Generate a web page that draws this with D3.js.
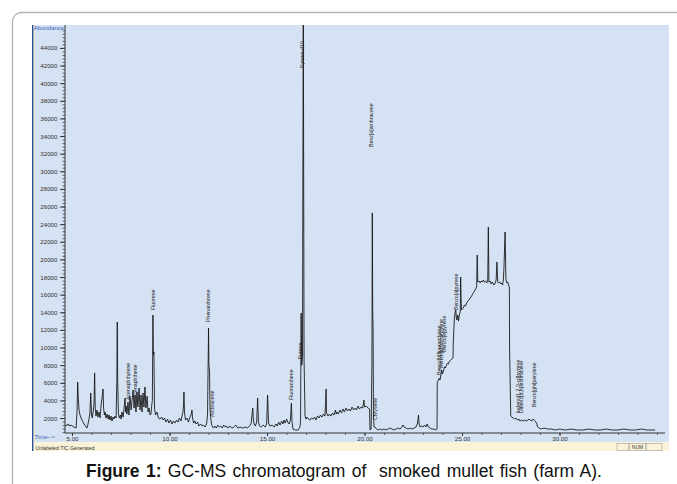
<!DOCTYPE html>
<html>
<head>
<meta charset="utf-8">
<script src="https://cdn.jsdelivr.net/npm/d3@7"></script>
<style>
  body { margin: 0; background: #fff; }
  svg { display: block; }
</style>
</head>
<body>
<svg id="chart"></svg>
<script>
// TIC trace: [retention time (min), abundance]
const ticEarly = [
  [4.64,1090],[4.74,1200],[4.80,1320],[4.85,1090],[4.95,1200],[5.10,980],[5.21,860],[5.26,2910],
  [5.29,6080],[5.32,4270],[5.36,2910],[5.41,2340],[5.51,1770],[5.62,1320],[5.72,980],[5.77,860],
  [5.82,1320],[5.87,1880],[5.92,2570],[5.96,4840],[6.00,2340],[6.04,2000],[6.08,2680],[6.13,3590],
  [6.16,7110],[6.19,3130],[6.23,2220],[6.28,2910],[6.33,2110],[6.38,2680],[6.44,2000],[6.49,3470],
  [6.54,4270],[6.59,5290],[6.62,3130],[6.66,2340],[6.70,2680],[6.74,2000],[6.80,2450],[6.85,1880],
  [6.90,2340],[6.95,1770],[7.00,2220],[7.05,1660],[7.10,2110],[7.15,1880],[7.20,2220],[7.26,2000],
  [7.30,6310],[7.32,12900],[7.34,6310],[7.38,2450],[7.43,2000],[7.48,2340],[7.52,1880],[7.56,2680],
  [7.62,2110],[7.67,3130],[7.72,4270],[7.75,2680],[7.77,3360],[7.82,2450],[7.87,3810],[7.92,2340],
  [7.97,4490],[8.03,2910],[8.08,4040],[8.13,5180],[8.18,3130],[8.23,4610],[8.28,2680],[8.33,4950],
  [8.38,3250],[8.44,5400],[8.49,2910],[8.54,4610],[8.59,2680],[8.64,4840],[8.69,3250],[8.74,5520],
  [8.79,3130],[8.85,4490],[8.90,2680],[8.95,3130],[9.00,2340],[9.05,2450],[9.09,3470],[9.12,4000],
  [9.15,13690],[9.17,9200],[9.20,9500],[9.23,3130],[9.28,2340],[9.36,2680],[9.43,2000],[9.51,1880]
];

const ticMiddle = [
  [9.59,2110],[9.67,1770],[9.74,2000],[9.82,1540],[9.90,1880],[9.97,1430],[10.05,1770],[10.13,1320],
  [10.20,1660],[10.28,1430],[10.36,1770],[10.44,1540],[10.51,2000],[10.59,1660],[10.64,2220],[10.69,2680],
  [10.72,3470],[10.74,4950],[10.77,2570],[10.82,1770],[10.90,2000],[10.97,1540],[11.05,2110],[11.12,2450],
  [11.15,2910],[11.18,2000],[11.24,1430],[11.30,1660],[11.36,1320],[11.44,1540],[11.51,1090],[11.59,1320],
  [11.67,1090],[11.74,1200],[11.82,980],[11.90,1320],[11.95,2340],[11.98,8200],[12.00,12210],[12.02,8000],
  [12.05,7500],[12.08,2910],[12.13,1660],[12.18,1090],[12.25,860],[12.33,1090],[12.40,860],[12.47,1200],
  [12.55,980],[12.62,1090],[12.70,860],[12.78,1200],[12.85,980],[12.93,1090],[13.00,860],[13.10,1090],
  [13.20,860],[13.30,980],[13.40,1200],[13.50,860],[13.62,980],[13.75,860],[13.87,980],[14.00,860],
  [14.10,1090],[14.18,1320],[14.23,2340],[14.27,3130],[14.30,1770],[14.34,1320],[14.40,1090],[14.47,1540],
  [14.52,4270],[14.56,1540],[14.62,1090],[14.70,980],[14.80,1200],[14.90,980],[14.98,1320],[15.03,4610],
  [15.08,1430],[15.15,1090],[15.26,1200],[15.36,980],[15.46,1320],[15.52,1090],[15.60,1540],[15.67,1200],
  [15.75,1660],[15.82,1320],[15.87,1770],[15.93,1430],[16.01,1880],[16.06,1540],[16.13,1320],[16.20,1770],
  [16.25,3700],[16.28,1660],[16.33,750],[16.45,640],[16.60,640],[16.69,980],[16.72,1770],[16.75,13910],
  [16.78,8000],[16.82,9000],[16.86,50000],[16.90,8580],[16.95,2220]
];

const ticLate = [
  [17.00,1880],[17.05,2110],[17.13,1880],[17.21,1770],[17.28,2000],[17.36,1880],[17.44,2110],[17.51,1770],
  [17.59,2220],[17.67,2000],[17.74,2340],[17.82,2110],[17.90,2450],[17.97,2220],[18.00,3500],[18.03,5290],
  [18.05,2570],[18.13,2220],[18.20,2450],[18.28,2220],[18.36,2570],[18.44,2340],[18.51,2910],[18.55,2450],
  [18.59,2680],[18.66,2450],[18.74,2910],[18.82,2570],[18.90,3020],[18.97,2680],[19.05,3130],[19.13,2800],
  [19.21,3020],[19.28,2800],[19.36,3250],[19.44,2910],[19.51,3130],[19.59,2910],[19.67,3360],[19.74,3020],
  [19.82,3250],[19.90,3130],[19.95,3700],[19.97,4040],[20.00,3250],[20.08,3360],[20.18,3130],[20.26,3020],
  [20.28,640],[20.34,750],[20.38,8000],[20.40,25270],[20.42,14260],[20.44,12000],[20.46,2340],[20.49,980],
  [20.54,980],[20.62,750],[20.69,640],[20.80,750],[20.90,640],[21.00,750],[21.10,640],[21.20,750],
  [21.31,860],[21.41,750],[21.51,640],[21.62,750],[21.72,860],[21.82,750],[21.92,980],[21.97,1200],
  [22.03,980],[22.13,860],[22.23,750],[22.33,860],[22.44,750],[22.54,860],[22.64,980],[22.72,1430],
  [22.77,2340],[22.80,1320],[22.85,980],[22.92,1090],[23.00,980],[23.08,1200],[23.15,980],[23.21,1320],
  [23.28,980],[23.36,860],[23.46,750],[23.56,750],[23.66,640],[23.72,750]
];

const ticTail = [
  [23.73,6080],[23.77,6200],[23.82,6500],[23.87,6310],[23.92,6900],[23.96,7450],[24.00,7000],[24.05,7340],
  [24.10,7800],[24.15,7670],[24.20,8010],[24.25,8200],[24.30,8120],[24.36,8470],[24.42,8580],[24.48,8700],
  [24.54,8810],[24.55,10280],[24.58,12000],[24.61,13350],[24.65,14000],[24.68,14260],[24.71,13350],[24.74,13120],
  [24.78,13690],[24.82,13000],[24.86,13690],[24.91,14000],[24.93,18000],[24.96,15000],[24.98,14260],[25.02,14370],
  [25.07,14480],[25.12,14820],[25.18,14710],[25.24,15050],[25.30,15280],[25.36,15390],[25.41,15620],[25.47,15730],
  [25.52,15960],[25.58,16190],[25.64,16420],[25.70,16640],[25.75,16870],[25.78,20500],[25.81,17430],[25.87,17550],
  [25.93,17320],[25.98,17550],[26.03,17430],[26.09,17660],[26.15,17430],[26.21,17550],[26.27,17320],[26.32,17660],
  [26.35,23680],[26.38,17430],[26.44,17550],[26.49,17210],[26.54,17430],[26.59,17320],[26.64,17090],[26.70,17320],
  [26.75,17660],[26.79,19700],[26.83,17430],[26.88,17320],[26.94,17430],[27.00,17210],[27.04,17320],[27.08,17090],
  [27.12,17660],[27.15,19000],[27.21,23110],[27.25,17800],[27.30,17320],[27.35,17430],[27.40,16980],[27.43,16870],
  [27.44,9720],[27.50,2220],[27.56,2110],[27.62,2000],[27.70,1880],[27.77,1990],[27.85,1770],[27.92,1880],
  [27.97,1660],[28.05,1770],[28.13,1660],[28.23,1770],[28.30,1660],[28.38,1770],[28.44,1880],[28.49,1770],
  [28.57,1660],[28.64,1880],[28.70,1770],[28.75,1660],[28.82,1430],[28.88,980],[28.95,860],[29.05,750],
  [29.20,860],[29.40,750],[29.60,750],[29.80,640],[30.00,750],[30.30,640],[30.60,750],[30.90,640],
  [31.20,640],[31.50,750],[31.80,640],[32.10,640],[32.40,750],[32.70,640],[33.00,640],[33.30,750],
  [33.60,640],[33.90,640],[34.20,750],[34.50,640],[34.90,640]
];

// compound labels: retention time and the abundance where the label text starts
const peakLabels = [
  { time: 7.87, abundance: 4040, name: "Acenaphthylene" },
  { time: 8.23, abundance: 4270, name: "Acenaphthene" },
  { time: 9.15, abundance: 14260, name: "Fluorene" },
  { time: 11.97, abundance: 12900, name: "Phenanthrene" },
  { time: 12.18, abundance: 2110, name: "Anthracene" },
  { time: 16.23, abundance: 4040, name: "Fluoranthene" },
  { time: 16.72, abundance: 8680, name: "Pyrene" },
  { time: 16.80, abundance: 41720, name: "Pyrene-d10" },
  { time: 20.36, abundance: 32760, name: "Benz[a]anthracene" },
  { time: 20.54, abundance: 1770, name: "Chrysene" },
  { time: 23.85, abundance: 6880, name: "Benzo[b]fluoranthene" },
  { time: 23.95, abundance: 7670, name: "Benzo[k]fluoranthene" },
  { time: 24.08, abundance: 9490, name: "Benzo[e]pyrene" },
  { time: 24.68, abundance: 14260, name: "Benzo[a]pyrene" },
  { time: 27.90, abundance: 2560, name: "Indeno[1,2,3-cd]pyrene" },
  { time: 28.05, abundance: 2560, name: "Dibenz[a,h]anthracene" },
  { time: 28.69, abundance: 3250, name: "Benzo[ghi]perylene" }
];

const abundanceTicks = [2000, 4000, 6000, 8000, 10000, 12000, 14000, 16000, 18000, 20000, 22000,
  24000, 26000, 28000, 30000, 32000, 34000, 36000, 38000, 40000, 42000, 44000];
const timeTicks = [5, 10, 15, 20, 25, 30];

const width = 677;
const height = 484;
const plot = { left: 65, right: 665, top: 25, bottom: 433 };

const svg = d3.select("#chart")
    .attr("width", width)
    .attr("height", height)
    .attr("viewBox", [0, 0, width, height])
    .style("font-family", "'Liberation Sans', Arial, sans-serif");

// outer figure frame (only the top-left corner is in view)
svg.append("rect")
    .attr("x", 12.5).attr("y", 12.5)
    .attr("width", 720).attr("height", 520)
    .attr("rx", 9)
    .attr("fill", "none")
    .attr("stroke", "#b4b4b4")
    .attr("stroke-width", 1.3);

// ChemStation window: blue panel, left strip, status bar
svg.append("rect")
    .attr("x", 32).attr("y", 25)
    .attr("width", 637).attr("height", 417)
    .attr("fill", "#d5e2f3");

svg.append("rect")
    .attr("x", 32).attr("y", 25)
    .attr("width", 1.6).attr("height", 426)
    .attr("fill", "#2f4f9e");

svg.append("rect")
    .attr("x", 33.6).attr("y", 25)
    .attr("width", 1).attr("height", 426)
    .attr("fill", "#efe6b8");

svg.append("rect")
    .attr("x", 34.6).attr("y", 442)
    .attr("width", 634.4).attr("height", 9)
    .attr("fill", "#fbf3d8");

svg.append("text")
    .attr("x", 35.5).attr("y", 449.5)
    .attr("font-size", 5.2)
    .attr("fill", "#333")
    .text("Unlabeled TIC Generated");

const statusBoxes = svg.append("g")
    .attr("fill", "none")
    .attr("stroke", "#a8a8a8")
    .attr("stroke-width", 0.7);
[[617, 12], [629, 17], [646, 16]].forEach(([bx, bw]) => {
    statusBoxes.append("rect")
        .attr("x", bx).attr("y", 443.5)
        .attr("width", bw).attr("height", 7);
});
svg.append("text")
    .attr("x", 637.5).attr("y", 449.3)
    .attr("text-anchor", "middle")
    .attr("font-size", 5)
    .attr("fill", "#333")
    .text("NUM");

// scales
const x = d3.scaleLinear()
    .domain([4.64, 35.41])
    .range([plot.left, plot.right]);

const y = d3.scaleLinear()
    .domain([300, 46600])
    .range([plot.bottom, plot.top]);

// axes
const yAxis = svg.append("g")
    .attr("transform", `translate(${plot.left},0)`)
    .call(d3.axisLeft(y).tickValues(abundanceTicks).tickSize(5).tickSizeOuter(0).tickPadding(2.5)
        .tickFormat(d3.format("d")));
yAxis.call(g => g.select(".domain").attr("stroke", "#333").attr("d", `M0,${plot.top}V${plot.bottom}`));
yAxis.selectAll(".tick line").attr("stroke", "#333");
yAxis.selectAll(".tick text").attr("font-size", 6.2).attr("fill", "#333")
    .attr("font-family", "'Liberation Sans', Arial, sans-serif");

svg.append("g")
    .attr("transform", `translate(${plot.left},0)`)
    .call(d3.axisLeft(y).tickValues(d3.range(400, 46400, 400)).tickSize(2.5).tickFormat(""))
    .call(g => g.select(".domain").remove())
    .selectAll(".tick line").attr("stroke", "#333").attr("stroke-width", 0.7);

const xAxis = svg.append("g")
    .attr("transform", `translate(0,${plot.bottom})`)
    .call(d3.axisBottom(x).tickValues(timeTicks).tickSize(3).tickSizeOuter(0).tickPadding(0.5)
        .tickFormat(d3.format(".2f")));
xAxis.call(g => g.select(".domain").attr("stroke", "#333").attr("d", `M${plot.left},0H${plot.right}`));
xAxis.selectAll(".tick line").attr("stroke", "#333");
xAxis.selectAll(".tick text").attr("font-size", 6.2).attr("fill", "#333")
    .attr("font-family", "'Liberation Sans', Arial, sans-serif");

svg.append("g")
    .attr("transform", `translate(0,${plot.bottom})`)
    .call(d3.axisBottom(x).tickValues(d3.range(5, 35.5, 1)).tickSize(2).tickFormat(""))
    .call(g => g.select(".domain").remove())
    .selectAll(".tick line").attr("stroke", "#333").attr("stroke-width", 0.7);

svg.append("text")
    .attr("x", 33.8).attr("y", 30.2)
    .attr("font-size", 6)
    .attr("fill", "#3f5fb5")
    .text("Abundance");

svg.append("text")
    .attr("x", 34.5).attr("y", 439)
    .attr("font-size", 6)
    .attr("fill", "#3f5fb5")
    .text("Time-->");

// chromatogram trace
svg.append("clipPath")
    .attr("id", "plot-clip")
    .append("rect")
    .attr("x", plot.left).attr("y", plot.top)
    .attr("width", plot.right - plot.left).attr("height", plot.bottom - plot.top);

const line = d3.line()
    .x(d => x(d[0]))
    .y(d => y(d[1]));

svg.append("path")
    .datum([...ticEarly, ...ticMiddle, ...ticLate, ...ticTail])
    .attr("clip-path", "url(#plot-clip)")
    .attr("fill", "none")
    .attr("stroke", "#111")
    .attr("stroke-width", 0.85)
    .attr("stroke-linejoin", "round")
    .attr("d", line);

// rotated compound labels
svg.append("g")
    .attr("font-size", 5.2)
    .attr("fill", "#222")
    .selectAll("text")
    .data(peakLabels)
    .join("text")
    .attr("transform", d => `translate(${x(d.time)},${y(d.abundance)}) rotate(-90)`)
    .attr("dy", "0.35em")
    .text(d => d.name);

// caption
const caption = svg.append("text")
    .attr("x", 344)
    .attr("y", 477)
    .attr("text-anchor", "middle")
    .attr("font-size", 17.5)
    .attr("word-spacing", 1.5)
    .attr("fill", "#111");
caption.append("tspan").attr("font-weight", "bold").text("Figure 1:");
caption.append("tspan").text(" GC-MS chromatogram of \u00a0smoked mullet fish (farm A).");
</script>
</body>
</html>
